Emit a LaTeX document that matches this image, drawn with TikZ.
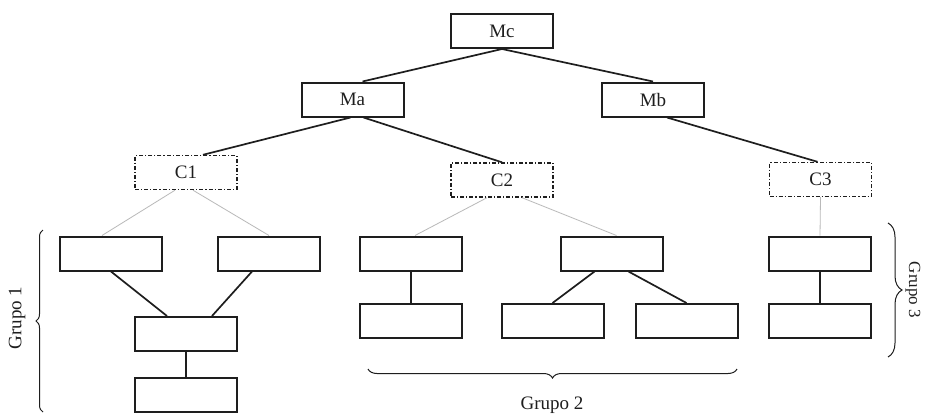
\documentclass[tikz,border=0pt]{standalone}
\usepackage{fontspec}
\setmainfont{Liberation Serif}
\usetikzlibrary{decorations.pathreplacing}
\definecolor{ink}{HTML}{1E1E1E}
\begin{document}
\begin{tikzpicture}[x=1pt,y=-1pt,
  box/.style={draw=ink, line width=2pt, minimum width=102pt, minimum height=34pt, inner sep=0pt, text=ink, font=\fontsize{19}{19}\selectfont},
  cbox/.style={box, line width=1.4pt, dash pattern=on 4pt off 2pt on 1.2pt off 2pt},
  link/.style={draw=ink, line width=1.7pt},
  thin/.style={draw=gray!55, line width=0.8pt},
  brc/.style={draw=ink, line width=1pt, decorate},
  grp/.style={text=ink, font=\fontsize{19}{19}\selectfont, inner sep=0pt}
]
\useasboundingbox (0,0) rectangle (925,416);
\fill[white] (0,0) rectangle (925,416);

% upper levels
\node[box] (mc) at (502,31) {Mc};
\node[box] (ma) at (352.5,99.5) {Ma};
\node[box] (mb) at (653,99.5) {Mb};
\node[cbox] (c1) at (186,172.5) {C1};
\node[cbox] (c2) at (502,180) {C2};
\node[cbox] (c3) at (820.5,179.5) {C3};

% group 1
\node[box] (g1a) at (111,253.5) {};
\node[box] (g1b) at (269,253.5) {};
\node[box] (g1c) at (186,334) {};
\node[box] (g1d) at (186,395) {};

% group 2
\node[box] (g2a) at (411,253.5) {};
\node[box] (g2b) at (611.5,253.5) {};
\node[box] (g2c) at (411,321) {};
\node[box] (g2d) at (552.5,321) {};
\node[box] (g2e) at (686.5,321) {};

% group 3
\node[box] (g3a) at (820,253.5) {};
\node[box] (g3b) at (820,320.5) {};

% tree links
\draw[link] (mc.south) -- ([xshift=10pt]ma.north);
\draw[link] (mc.south) -- (mb.north);
\draw[link] ([xshift=-2pt]ma.south) -- ([xshift=17pt]c1.north);
\draw[link] ([xshift=11pt]ma.south) -- (c2.north);
\draw[link] ([xshift=14pt]mb.south) -- ([xshift=-3pt]c3.north);

% light links from the C boxes
\draw[thin] ([xshift=-11pt]c1.south) -- ([xshift=-9pt]g1a.north);
\draw[thin] ([xshift=7pt]c1.south) -- (g1b.north);
\draw[thin] ([xshift=-15pt]c2.south) -- ([xshift=4pt]g2a.north);
\draw[thin] ([xshift=20pt]c2.south) -- ([xshift=5pt]g2b.north);
\draw[thin] (c3.south) -- (g3a.north);

% links inside the groups
\draw[link] (g1a.south) -- ([xshift=-19pt]g1c.north);
\draw[link] ([xshift=-17pt]g1b.south) -- ([xshift=26pt]g1c.north);
\draw[link] (g1c.south) -- (g1d.north);
\draw[link] (g2a.south) -- (g2c.north);
\draw[link] ([xshift=-17pt]g2b.south) -- (g2d.north);
\draw[link] ([xshift=17pt]g2b.south) -- (g2e.north);
\draw[link] (g3a.south) -- (g3b.north);

% braces and group labels
\coordinate (b1s) at (43,412);
\coordinate (b1e) at (43,230);
\draw[brc, decoration={brace, amplitude=7pt}] (b1s) -- (b1e);
\node[grp, rotate=90] (grp1) at (17,318) {Grupo 1};

\coordinate (b2s) at (737,369);
\coordinate (b2e) at (368,369);
\draw[brc, decoration={brace, amplitude=9pt}] (b2s) -- (b2e);
\node[grp] (grp2) at (552,405) {Grupo 2};

\coordinate (b3s) at (888,223);
\coordinate (b3e) at (888,357);
\draw[brc, decoration={brace, amplitude=14pt}] (b3s) -- (b3e);
\node[grp, rotate=-90, font=\fontsize{17}{17}\selectfont] (grp3) at (913,290) {Grupo 3};
\end{tikzpicture}
\end{document}
